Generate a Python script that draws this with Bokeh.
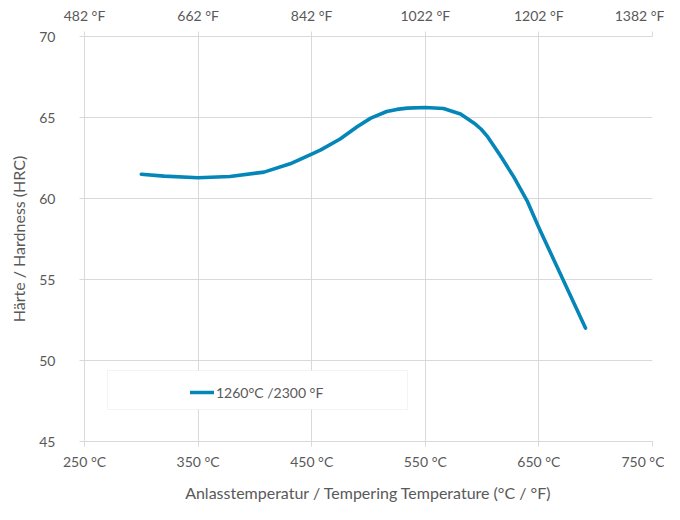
from bokeh.plotting import figure
from bokeh.models import Range1d, LinearAxis, FixedTicker, Legend, LegendItem, BoxAnnotation
from bokeh.embed import file_html
from bokeh.resources import INLINE

# ---- data ----
temp_c = [300, 320, 350, 378, 408, 431, 449, 458, 475, 490, 502, 516, 525, 534,
          550, 566, 581, 593, 599, 605, 616, 628, 640, 650, 672, 691]
hardness = [61.5, 61.38, 61.28, 61.36, 61.63, 62.14, 62.71, 63.0, 63.67, 64.43,
            64.96, 65.37, 65.5, 65.58, 65.62, 65.56, 65.22, 64.65, 64.29, 63.8,
            62.65, 61.32, 59.8, 58.2, 54.87, 52.0]
series_name = "1260°C /2300 °F"

x_ticks = [250, 350, 450, 550, 650, 750]
x_labels_c = ["250 °C", "350 °C", "450 °C", "550 °C", "650 °C", "750 °C"]
x_labels_f = ["482 °F", "662 °F", "842 °F", "1022 °F", "1202 °F", "1382 °F"]
y_ticks = [45, 50, 55, 60, 65, 70]

FONT = "Lato"
TXT = "#595959"
GRID = "#d9d9d9"
LINE = "#0586b8"

p = figure(width=664, height=504, output_backend="svg", toolbar_location=None,
           x_range=Range1d(250, 750), y_range=Range1d(45, 70),
           min_border_left=84, min_border_right=12, min_border_top=36,
           min_border_bottom=60)
p.outline_line_color = None
p.background_fill_color = "white"

r = p.line(temp_c, hardness, line_color=LINE, line_width=3.6,
           line_cap="round", line_join="round")

def style_axis(ax):
    ax.axis_line_color = GRID
    ax.major_tick_line_color = GRID
    ax.major_tick_in = 0
    ax.major_tick_out = 5
    ax.minor_tick_line_color = None
    ax.major_label_text_font = FONT
    ax.major_label_text_color = TXT
    ax.major_label_text_font_size = "14px"
    ax.axis_label_text_font = FONT
    ax.axis_label_text_color = TXT
    ax.axis_label_text_font_size = "16px"
    ax.axis_label_text_font_style = "normal"

xa = p.xaxis[0]
xa.ticker = FixedTicker(ticks=x_ticks)
xa.major_label_overrides = {t: l for t, l in zip(x_ticks, x_labels_c)}
xa.axis_label = "Anlasstemperatur / Tempering Temperature (°C / °F)"
style_axis(xa)
xa.major_label_standoff = 6
xa.axis_label_standoff = 10

ya = p.yaxis[0]
ya.ticker = FixedTicker(ticks=y_ticks)
ya.axis_label = "Härte / Hardness (HRC)"
style_axis(ya)
ya.major_label_standoff = 24
ya.axis_label_standoff = 8

top = LinearAxis(ticker=FixedTicker(ticks=x_ticks),
                 major_label_overrides={t: l for t, l in zip(x_ticks, x_labels_f)})
style_axis(top)
top.major_label_standoff = 8
p.add_layout(top, "above")

p.xgrid.ticker = FixedTicker(ticks=x_ticks)
p.ygrid.ticker = FixedTicker(ticks=y_ticks)
p.xgrid.grid_line_color = GRID
p.ygrid.grid_line_color = GRID

# legend frame (screen units, relative to the plot frame)
box = BoxAnnotation(left=23, right=323, bottom=32, top=71,
                    left_units="screen", right_units="screen",
                    bottom_units="screen", top_units="screen",
                    fill_color="white", fill_alpha=1.0,
                    line_color=GRID, line_width=1)
p.add_layout(box)

legend = Legend(items=[LegendItem(label=series_name, renderers=[r])],
                location=(106, 39), border_line_color=None,
                background_fill_alpha=0, padding=2, margin=0,
                glyph_width=24, label_standoff=2,
                label_text_font=FONT, label_text_color=TXT,
                label_text_font_size="14px")
p.add_layout(legend)

open("out.html", "w").write(file_html(p, INLINE))
